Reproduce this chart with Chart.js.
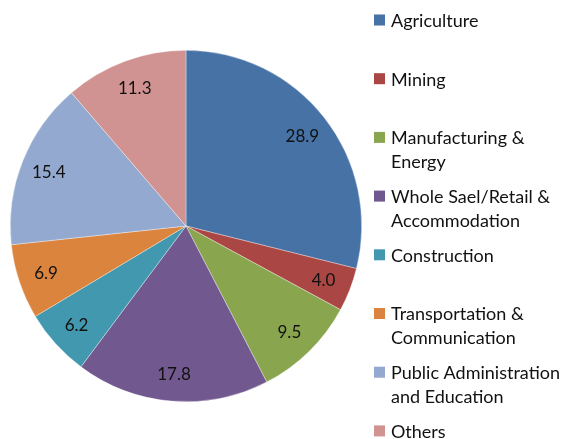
<!DOCTYPE html>
<html>
<head>
<meta charset="utf-8">
<script src="https://cdn.jsdelivr.net/npm/chart.js@4/dist/chart.umd.min.js"></script>
<style>
  html, body { margin: 0; padding: 0; background: #fff; }
  #wrap { width: 565px; height: 439px; position: relative; }
</style>
</head>
<body>
<div id="wrap"><canvas id="chart"></canvas></div>
<script>
// Sector shares (they add up to 100).
const sectors = [
  'Agriculture',
  'Mining',
  'Manufacturing & Energy',
  'Whole Sael/Retail & Accommodation',
  'Construction',
  'Transportation & Communication',
  'Public Administration and Education',
  'Others',
];
const shares = [28.9, 4.0, 9.5, 17.8, 6.2, 6.9, 15.4, 11.3];
const sliceColors = [
  '#4672A6', '#AA4643', '#89A54E', '#71588F',
  '#4198AF', '#DB843D', '#93A9CF', '#D19392',
];

const FONT = 'Lato, "Open Sans", sans-serif';

// Value labels inside each slice, a bit inward from the rim.
const sliceLabels = {
  id: 'sliceLabels',
  afterDatasetsDraw(chart) {
    const { ctx } = chart;
    const meta = chart.getDatasetMeta(0);
    ctx.save();
    ctx.font = '17px ' + FONT;
    ctx.fillStyle = '#111';
    ctx.textAlign = 'center';
    ctx.textBaseline = 'middle';
    meta.data.forEach((arc, i) => {
      const p = arc.getProps(['x', 'y', 'startAngle', 'endAngle', 'outerRadius'], true);
      const mid = (p.startAngle + p.endAngle) / 2;
      const r = p.outerRadius * 0.84;
      ctx.fillText(shares[i].toFixed(1), p.x + Math.cos(mid) * r, p.y + Math.sin(mid) * r + 1);
    });
    ctx.restore();
  },
};

// Legend on the right: evenly spaced entries, long names wrap onto a
// second line without pushing the next entry down.
const sideLegend = {
  id: 'sideLegend',
  afterDraw(chart) {
    const { ctx } = chart;
    const boxX = 374, textX = 391, top = 20, step = 58.7, lineH = 24;
    const maxW = chart.width - textX + 2;
    ctx.save();
    ctx.font = '18px ' + FONT;
    ctx.textBaseline = 'middle';
    chart.data.labels.forEach((label, i) => {
      const y = top + i * step;
      ctx.fillStyle = chart.data.datasets[0].backgroundColor[i];
      ctx.fillRect(boxX, y - 5.5, 11, 11);
      ctx.fillStyle = '#111';
      const words = label.split(' ');
      const lines = [];
      let cur = '';
      words.forEach((w) => {
        const test = cur ? cur + ' ' + w : w;
        if (cur && ctx.measureText(test).width > maxW) {
          lines.push(cur);
          cur = w;
        } else {
          cur = test;
        }
      });
      lines.push(cur);
      lines.forEach((ln, k) => ctx.fillText(ln, textX, y + 1 + k * lineH));
    });
    ctx.restore();
  },
};

new Chart(document.getElementById('chart'), {
  type: 'pie',
  plugins: [sliceLabels, sideLegend],
  data: {
    labels: sectors,
    datasets: [{
      data: shares,
      backgroundColor: sliceColors,
      borderColor: 'rgba(255,255,255,0.6)',
      borderWidth: 0.6,
    }],
  },
  options: {
    responsive: true,
    maintainAspectRatio: false,
    animation: false,
    layout: { padding: { left: 10, right: 203, top: 50, bottom: 37 } },
    plugins: {
      legend: { display: false },
      tooltip: { enabled: false },
    },
  },
});
</script>
</body>
</html>
